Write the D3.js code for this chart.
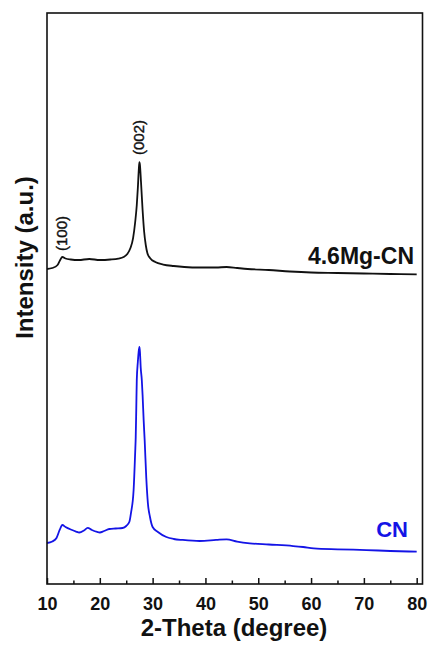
<!DOCTYPE html>
<html>
<head>
<meta charset="utf-8">
<script src="https://cdn.jsdelivr.net/npm/d3@7"></script>
<style>
  html, body { margin: 0; padding: 0; background: #fff; }
  svg { display: block; font-family: "Liberation Sans", Arial, sans-serif; }
</style>
</head>
<body>
<svg id="chart" width="433" height="647"></svg>
<script>
// 2-Theta positions (degree) and intensities (a.u., offset included)
const mgTheta = [10.0, 11.0, 12.0, 12.5, 12.9, 13.5, 14.5, 16, 18, 20, 22, 23.5, 24.5, 25.2, 25.8, 26.3, 26.7, 27.0, 27.2, 27.4, 27.5, 27.6, 27.8, 28.1, 28.4, 28.7, 29.0, 29.5, 30.5, 32, 34, 36, 39, 42, 44, 46, 48, 52, 56, 60, 65, 70, 75, 80];
const mgIntensity = [55.17, 55.34, 55.87, 56.74, 57.27, 57.00, 56.83, 56.74, 56.92, 56.74, 56.83, 57.00, 57.27, 57.79, 58.84, 60.59, 63.40, 66.37, 69.35, 72.85, 73.90, 73.38, 70.40, 65.50, 61.65, 59.37, 57.97, 57.09, 56.39, 55.95, 55.69, 55.52, 55.43, 55.43, 55.52, 55.34, 55.17, 54.99, 54.73, 54.55, 54.47, 54.38, 54.29, 54.24];

const cnTheta = [10.0, 11.0, 11.8, 12.4, 12.9, 13.5, 14.5, 15.5, 16.1, 17, 17.7, 18.5, 19.5, 20, 20.8, 21.8, 23, 24.3, 25, 25.6, 25.9, 26.4, 26.7, 26.8, 26.9, 27.0, 27.2, 27.35, 27.5, 27.6, 27.75, 27.95, 28.1, 28.3, 28.5, 28.8, 29.1, 29.5, 30, 31, 32.6, 34, 35.7, 38.9, 42, 44, 46, 48.4, 52, 56.6, 58.5, 60.5, 65, 70.5, 75, 80];
const cnIntensity = [7.18, 7.44, 8.06, 9.46, 10.33, 9.98, 9.54, 9.19, 9.02, 9.37, 9.84, 9.46, 9.11, 9.02, 9.28, 9.63, 9.72, 9.81, 10.16, 10.91, 12.43, 16.46, 23.12, 25.74, 30.47, 35.73, 38.88, 40.63, 41.51, 40.63, 37.83, 35.73, 33.10, 28.72, 25.04, 18.56, 14.19, 11.73, 9.98, 9.11, 8.23, 7.88, 7.71, 7.53, 7.71, 7.83, 7.44, 7.13, 6.92, 6.65, 6.48, 6.25, 6.08, 5.95, 5.78, 5.66];

const majorTicks = [10, 20, 30, 40, 50, 60, 70, 80];
const minorTicks = [15, 25, 35, 45, 55, 65, 75];
const seriesNames = ["4.6Mg-CN", "CN"];
const peakLabels = ["(100)", "(002)"];
const peakPositions = [12.9, 27.5];

const svg = d3.select("#chart");
const mLeft = 47, mRight = 422.5, mTop = 13, mBottom = 584;
const x = d3.scaleLinear().domain([10, 81.1]).range([mLeft, mRight]);
const y = d3.scaleLinear().domain([0, 100]).range([mBottom, mTop]);

const line = d3.line().x(d => x(d[0])).y(d => y(d[1])).curve(d3.curveMonotoneX);

const mgData = mgTheta.map((t, i) => [t, mgIntensity[i]]);
const cnData = cnTheta.map((t, i) => [t, cnIntensity[i]]);

svg.append("path").datum(mgData).attr("d", line)
  .attr("fill", "none").attr("stroke", "#111").attr("stroke-width", 1.8);
svg.append("path").datum(cnData).attr("d", line)
  .attr("fill", "none").attr("stroke", "#1414e6").attr("stroke-width", 1.8);

// axes
const xAxis = d3.axisBottom(x).tickValues(majorTicks).tickSize(-6).tickPadding(13).tickFormat(d3.format("d"));
const gx = svg.append("g").attr("transform", `translate(0,${mBottom})`).call(xAxis);
gx.select(".domain").remove();
gx.selectAll(".tick line").attr("stroke", "#111").attr("stroke-width", 1.5);
gx.selectAll(".tick text").attr("font-size", 18).attr("font-weight", "bold")
  .attr("fill", "#111").attr("font-family", "Liberation Sans, Arial, sans-serif");

const xMinor = d3.axisBottom(x).tickValues(minorTicks).tickSize(-3.5).tickFormat("");
const gm = svg.append("g").attr("transform", `translate(0,${mBottom})`).call(xMinor);
gm.select(".domain").remove();
gm.selectAll(".tick line").attr("stroke", "#111").attr("stroke-width", 1.5);

// frame
svg.append("rect").attr("x", mLeft).attr("y", mTop)
  .attr("width", mRight - mLeft).attr("height", mBottom - mTop)
  .attr("fill", "none").attr("stroke", "#111").attr("stroke-width", 1.6);

// titles
svg.append("text").attr("x", 234).attr("y", 636).attr("text-anchor", "middle")
  .attr("font-size", 24).attr("font-weight", "bold").attr("fill", "#111")
  .text("2-Theta (degree)");
svg.append("text").attr("transform", "translate(33,257.5) rotate(-90)")
  .attr("text-anchor", "middle")
  .attr("font-size", 24).attr("font-weight", "bold").attr("fill", "#111")
  .text("Intensity (a.u.)");

// series labels
svg.append("text").attr("x", 414).attr("y", 264).attr("text-anchor", "end")
  .attr("font-size", 23).attr("font-weight", "bold").attr("fill", "#111")
  .text(seriesNames[0]);
svg.append("text").attr("x", 408).attr("y", 537).attr("text-anchor", "end")
  .attr("font-size", 22).attr("font-weight", "bold").attr("fill", "#1414e6")
  .text(seriesNames[1]);

// peak labels
const peakY = [251, 155];
peakLabels.forEach((lab, i) => {
  svg.append("text")
    .attr("transform", `translate(${x(peakPositions[i]) + 5},${peakY[i]}) rotate(-90)`)
    .attr("text-anchor", "start")
    .attr("font-size", 15).attr("fill", "#111")
    .attr("stroke", "#111").attr("stroke-width", 0.4)
    .text(lab);
});
</script>
</body>
</html>
